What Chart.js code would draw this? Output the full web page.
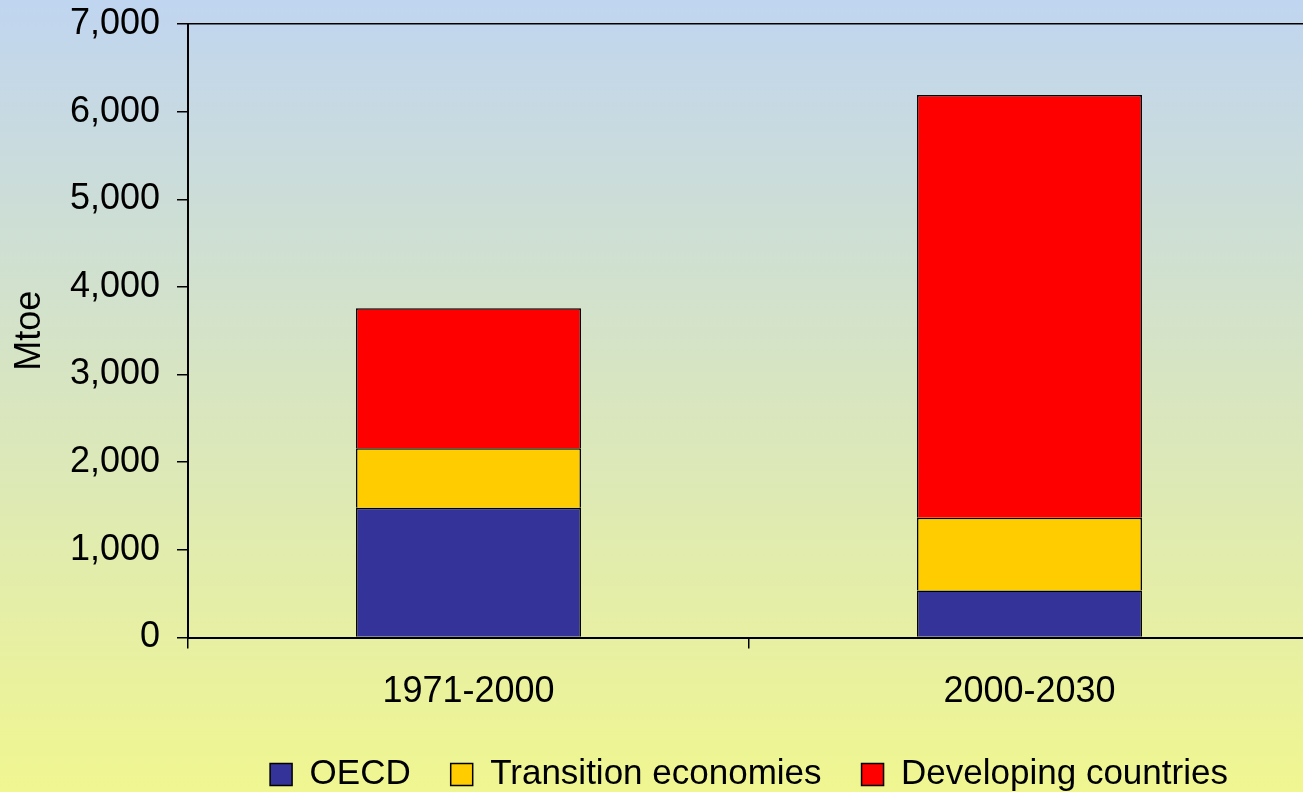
<!DOCTYPE html>
<html><head><meta charset="utf-8">
<script src="https://cdn.jsdelivr.net/npm/chart.js@4/dist/chart.umd.min.js"></script>
<style>html,body{margin:0;padding:0;overflow:hidden;background:#fff;width:1303px;height:792px}#wrap{width:1303px;height:792px;overflow:hidden}</style>
</head><body><div id="wrap"><canvas id="c" width="1310" height="802"></canvas></div>
<script>
const categories = ['1971-2000', '2000-2030'];
const oecd = [1480, 535];
const transition = [680, 830];
const developing = [1597, 4825];
const yMin = 0, yMax = 7000, yStep = 1000;
const yTitle = 'Mtoe';
const seriesNames = ['OECD', 'Transition economies', 'Developing countries'];

const FONT = '"Liberation Sans", Arial, sans-serif';

const bgPlugin = {
  id: 'bg',
  beforeDraw(chart) {
    const {ctx, width} = chart;
    const g = ctx.createLinearGradient(0, 0, 0, 792);
    g.addColorStop(0, 'rgb(192,213,240)');
    g.addColorStop(1, 'rgb(240,246,144)');
    ctx.save();
    ctx.fillStyle = g;
    ctx.fillRect(0, 0, width, chart.height);
    ctx.restore();
  }
};

new Chart(document.getElementById('c'), {
  type: 'bar',
  data: {
    labels: categories,
    datasets: [
      {label: seriesNames[0], data: oecd, backgroundColor: '#333399', borderColor: '#000', borderWidth: 1.5},
      {label: seriesNames[1], data: transition, backgroundColor: '#FFCC00', borderColor: '#000', borderWidth: 1.5},
      {label: seriesNames[2], data: developing, backgroundColor: '#FF0000', borderColor: '#000', borderWidth: 1.5}
    ]
  },
  options: {
    responsive: false,
    animation: false,
    devicePixelRatio: 1,
    layout: {padding: {top: 24, left: 0, right: 0, bottom: 0}},
    datasets: {bar: {categoryPercentage: 1, barPercentage: 0.401}},
    plugins: {
      tooltip: {enabled: false},
      legend: {
        position: 'bottom',
        fullSize: false,
        labels: {
          font: {family: FONT, size: 35},
          color: '#000',
          boxWidth: 22,
          boxHeight: 22,
          padding: 40
        }
      }
    },
    scales: {
      x: {
        stacked: true,
        afterFit(s) { s.height = 79.5; s.paddingLeft = 0; s.paddingRight = 0; },
        grid: {display: true, drawOnChartArea: false, offset: true, color: '#000', tickColor: '#000', tickLength: 11, lineWidth: 1.5},
        border: {display: true, color: '#000', width: 2},
        ticks: {font: {family: FONT, size: 36}, color: '#000', padding: 22, maxRotation: 0}
      },
      y: {
        stacked: true,
        min: yMin, max: yMax,
        afterFit(s) { s.width = 188; s.paddingTop = 0; s.paddingBottom = 0; },
        grid: {
          display: true,
          drawOnChartArea: true,
          color: (c) => (c.tick && c.tick.value === yMax) ? '#000' : 'rgba(0,0,0,0)',
          tickColor: '#000',
          tickLength: 11,
          lineWidth: 1.5
        },
        border: {display: true, color: '#000', width: 2},
        ticks: {
          stepSize: yStep,
          font: {family: FONT, size: 36},
          color: '#000',
          padding: 17,
          callback: (v) => Number(v).toLocaleString('en-US')
        },
        title: {display: true, text: yTitle, font: {family: FONT, size: 36}, color: '#000', padding: {top: 8, bottom: 0}}
      }
    }
  },
  plugins: [bgPlugin]
});
</script>
</body></html>
